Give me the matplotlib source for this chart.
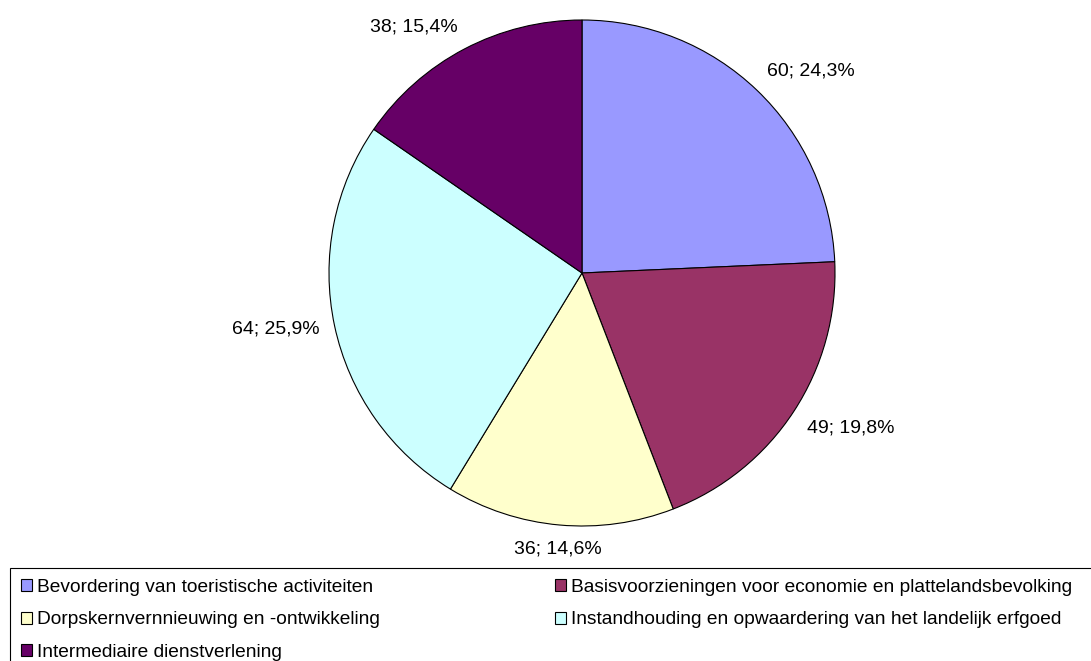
import matplotlib.pyplot as plt
import numpy as np
from matplotlib.patches import Rectangle

plt.rcParams['font.family'] = ['Liberation Sans', 'DejaVu Sans']

categories = ['Bevordering van toeristische activiteiten',
              'Basisvoorzieningen voor economie en plattelandsbevolking',
              'Dorpskernvernnieuwing en -ontwikkeling',
              'Instandhouding en opwaardering van het landelijk erfgoed',
              'Intermediaire dienstverlening']
values = [60, 49, 36, 64, 38]
colors = ['#9999FF', '#993366', '#FFFFCC', '#CCFFFF', '#660066']

W, H = 1091, 661
fig = plt.figure(figsize=(W / 100, H / 100), dpi=100)
ax = fig.add_axes([0, 0, 1, 1])

cx, cy, r = 582, H - 273, 253
wedges, _ = ax.pie(values, colors=colors, startangle=90, counterclock=False,
                   center=(cx, cy), radius=r, frame=True,
                   wedgeprops=dict(edgecolor='black', linewidth=0.8))
ax.set_xlim(0, W)
ax.set_ylim(0, H)
ax.axis('off')

total = sum(values)
for w, v in zip(wedges, values):
    ang = np.deg2rad((w.theta1 + w.theta2) / 2)
    c, s = np.cos(ang), np.sin(ang)
    ha = 'left' if c > 0.2 else ('right' if c < -0.2 else 'center')
    va = 'bottom' if s > 0.3 else ('top' if s < -0.3 else 'center')
    d = r * 1.06
    label = f"{v}; {v / total * 100:.1f}%".replace('.', ',')
    ax.text(cx + d * c, cy + d * s, label, ha=ha, va=va, fontsize=14)

# legend box runs off the right and bottom edges
ax.add_patch(Rectangle((10, -20), W + 20, H - 568 + 20, facecolor='none',
                       edgecolor='black', linewidth=0.8, clip_on=False))

order = [0, 2, 4, 1, 3]
fig.legend([wedges[i] for i in order], [categories[i] for i in order],
           ncol=2, loc='upper left', bbox_to_anchor=(21 / W, 1 - 579 / H),
           frameon=False, fontsize=13.8, handlelength=0.58, handleheight=0.58,
           handletextpad=0.25, labelspacing=0.8, columnspacing=9.15,
           borderpad=0, borderaxespad=0)

fig.savefig('out.png', dpi=100)
